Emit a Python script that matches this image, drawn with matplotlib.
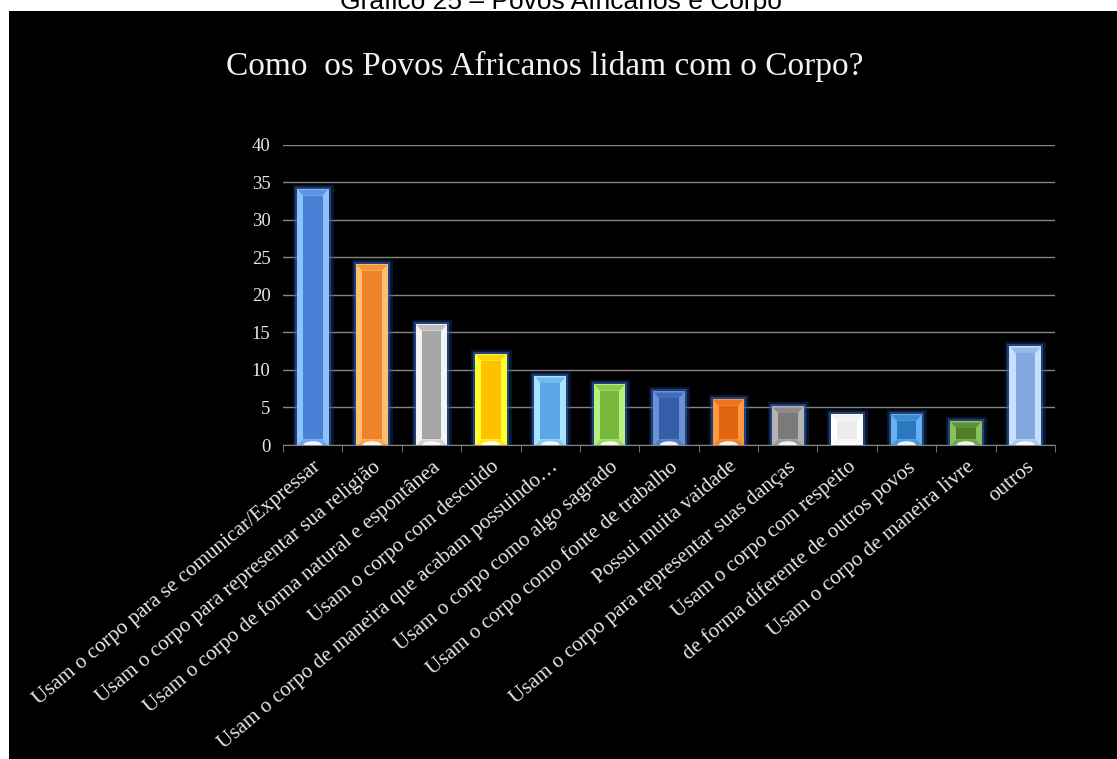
import matplotlib.pyplot as plt
import matplotlib.patheffects as pe
from matplotlib.patches import Rectangle, Polygon, Ellipse

# respostas: como os povos africanos lidam com o corpo
categorias = [
    "Usam o corpo para se comunicar/Expressar",
    "Usam o corpo para representar sua religião",
    "Usam o corpo de forma natural e espontânea",
    "Usam o corpo com descuido",
    "Usam o corpo de maneira que acabam possuindo…",
    "Usam o corpo como algo sagrado",
    "Usam o corpo como fonte de trabalho",
    "Possui muita vaidade",
    "Usam o corpo para representar suas danças",
    "Usam o corpo com respeito",
    "de forma diferente de outros povos",
    "Usam o corpo de maneira livre",
    "outros",
]
valores = [34, 24, 16, 12, 9, 8, 7, 6, 5, 4, 4, 3, 13]

cor_borda = ["#8ec1ff", "#ffc070", "#f4f4f4", "#ffff30", "#a8e4ff", "#b8f080", "#6a90d8",
             "#ff9a40", "#b4b4b4", "#ffffff", "#6ab0f0", "#8ac060", "#c8e0ff"]
cor_face = ["#4a7fd6", "#f0822a", "#a6a6a6", "#ffc000", "#5aa6e6", "#78b83c", "#345ea8",
            "#e0650e", "#7a7a7a", "#ececec", "#2a78c0", "#4e7e2a", "#84a8e0"]

fig = plt.figure(figsize=(11.17, 7.59), dpi=100, facecolor="white")
fundo = Rectangle((9 / 1117, 0), 1 - 9 / 1117, 1 - 11 / 759, transform=fig.transFigure,
                  facecolor="black", edgecolor="none", zorder=-5)
fig.patches.append(fundo)
fig.text(0.502, 1 - 9 / 759, "Gráfico 25 – Povos Africanos e Corpo", ha="center",
         va="baseline", fontsize=19, family="Liberation Sans", color="black", zorder=-4)
fig.text(0.488, 1 - 66 / 759, "Como  os Povos Africanos lidam com o Corpo?", ha="center",
         va="center", fontsize=24, family="Liberation Serif", color="#f2f2f2")

ax = fig.add_axes([0.2534, 0.4137, 0.6911, 0.3953])
ax.set_facecolor("black")

x = list(range(len(valores)))
largura = 0.5
barras = ax.bar(x, valores, width=largura, color=cor_borda, edgecolor=cor_borda,
                linewidth=1.2, zorder=3)
for b in barras:
    b.set_path_effects([pe.withStroke(linewidth=8, foreground="#1a3f80", alpha=0.35),
                        pe.withStroke(linewidth=4.5, foreground="#3a6fc0", alpha=0.5),
                        pe.Normal()])

# chanfro interno de cada barra
dx = 0.085
dy = 0.75
for b, fc in zip(barras, cor_face):
    x0, w, h = b.get_x(), b.get_width(), b.get_height()
    x1 = x0 + w
    ax.add_patch(Rectangle((x0 + dx, dy), w - 2 * dx, h - 2 * dy, facecolor=fc,
                           edgecolor="none", zorder=4))
    ax.add_patch(Polygon([(x0, h), (x1, h), (x1 - dx, h - dy), (x0 + dx, h - dy)],
                         closed=True, facecolor=fc, alpha=0.7, edgecolor="none", zorder=4))
    ax.add_patch(Polygon([(x0, 0), (x1, 0), (x1 - dx, dy), (x0 + dx, dy)],
                         closed=True, facecolor=fc, alpha=0.4, edgecolor="none", zorder=4))
    ax.add_patch(Ellipse((x0 + w / 2, 0.0), w * 0.62, 1.0, facecolor="white",
                         alpha=0.9, edgecolor="none", zorder=5))

ax.set_xlim(-0.5, len(valores) - 0.5)
ax.set_ylim(0, 40)
ax.set_yticks(range(0, 41, 5))
ax.yaxis.grid(True, color="#858585", linewidth=1)
ax.set_axisbelow(True)
for s in ["left", "right", "top"]:
    ax.spines[s].set_visible(False)
ax.spines["bottom"].set_color("#858585")
ax.tick_params(axis="y", length=0, labelsize=13.5, labelcolor="#e6e6e6", pad=9)
for t in ax.get_yticklabels():
    t.set_family("Liberation Serif")

ax.set_xticks(x)
ax.set_xticklabels(categorias, rotation=40, ha="right", rotation_mode="anchor",
                   fontsize=15.3, family="Liberation Serif", color="#e6e6e6")
ax.tick_params(axis="x", which="major", length=0, pad=9)
ax.set_xticks([i - 0.5 for i in range(len(valores) + 1)], minor=True)
ax.tick_params(axis="x", which="minor", length=5, color="#858585")

fig.savefig("out.png", dpi=100, facecolor="white")
